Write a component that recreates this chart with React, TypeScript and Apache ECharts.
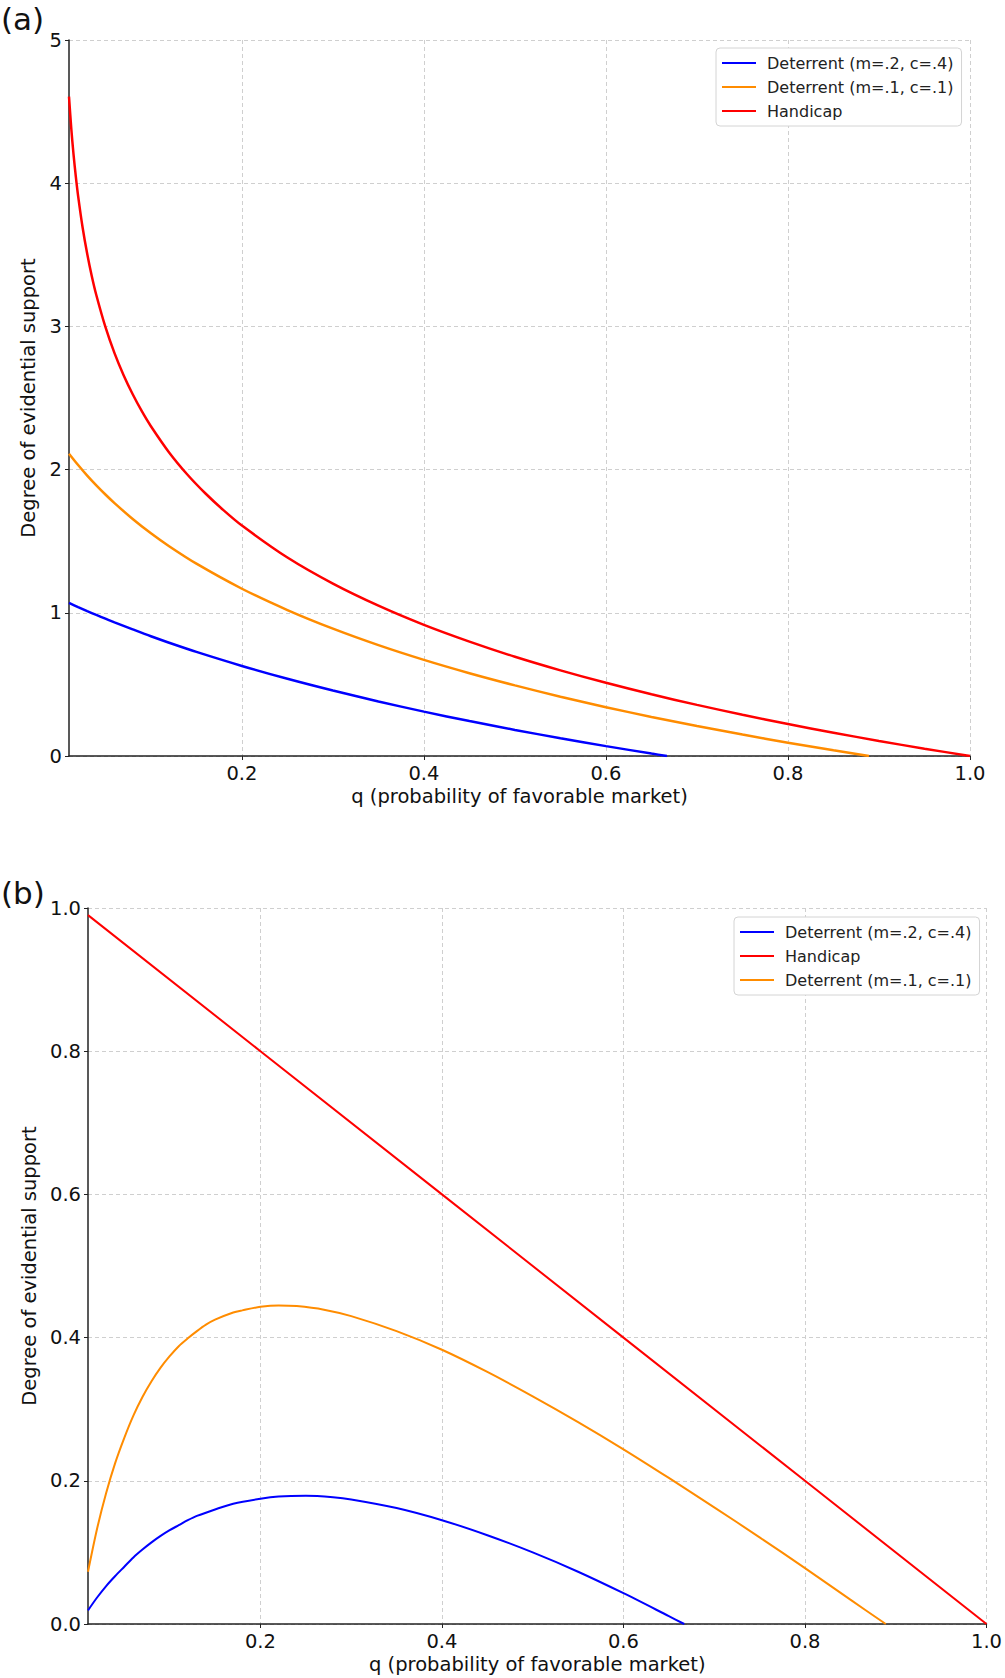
import React, { useEffect, useRef } from "react";
import * as echarts from "echarts";

// ---------- Data ----------
const seriesNames = ["Deterrent (m=.2, c=.4)", "Deterrent (m=.1, c=.1)", "Handicap"];
const legendOrderB = ["Deterrent (m=.2, c=.4)", "Handicap", "Deterrent (m=.1, c=.1)"];

const xTickValues = [0.2, 0.4, 0.6, 0.8, 1.0];

// Panel (a)
const qBlueA = [0.01, 0.02, 0.03, 0.04, 0.05, 0.06, 0.08, 0.1, 0.12, 0.15, 0.2, 0.25, 0.3, 0.35, 0.4, 0.45, 0.5, 0.55, 0.6, 0.65, 0.667];
const blueA = [1.069, 1.04, 1.012, 0.985, 0.959, 0.933, 0.884, 0.836, 0.791, 0.727, 0.629, 0.539, 0.457, 0.381, 0.31, 0.244, 0.182, 0.124, 0.069, 0.017, 0];

const qOrangeA = [0.01, 0.02, 0.03, 0.04, 0.05, 0.06, 0.08, 0.1, 0.12, 0.15, 0.2, 0.25, 0.3, 0.35, 0.4, 0.45, 0.5, 0.55, 0.6, 0.65, 0.7, 0.75, 0.8, 0.85, 0.889];
const orangeA = [2.111, 2.032, 1.958, 1.89, 1.826, 1.766, 1.655, 1.555, 1.465, 1.343, 1.168, 1.019, 0.889, 0.774, 0.671, 0.578, 0.493, 0.414, 0.341, 0.273, 0.209, 0.15, 0.093, 0.04, 0];

const qRedA = [0.01, 0.0125, 0.015, 0.0175, 0.02, 0.025, 0.03, 0.035, 0.04, 0.05, 0.06, 0.07, 0.08, 0.09, 0.1, 0.12, 0.14, 0.16, 0.18, 0.2, 0.25, 0.3, 0.35, 0.4, 0.45, 0.5, 0.55, 0.6, 0.65, 0.7, 0.75, 0.8, 0.85, 0.9, 0.95, 1.0];
const redA = [4.605, 4.382, 4.2, 4.046, 3.912, 3.689, 3.507, 3.352, 3.219, 2.996, 2.813, 2.659, 2.526, 2.408, 2.303, 2.12, 1.966, 1.833, 1.715, 1.609, 1.386, 1.204, 1.05, 0.916, 0.799, 0.693, 0.598, 0.511, 0.431, 0.357, 0.288, 0.223, 0.163, 0.105, 0.051, 0];

// Panel (b)
const qBlueB = [0.01, 0.02, 0.03, 0.04, 0.05, 0.06, 0.07, 0.08, 0.09, 0.1, 0.11, 0.12, 0.13, 0.15, 0.17, 0.2, 0.22, 0.25, 0.28, 0.3, 0.35, 0.4, 0.45, 0.5, 0.55, 0.6, 0.65, 0.667];
const blueB = [0.019, 0.037, 0.053, 0.067, 0.08, 0.093, 0.104, 0.114, 0.123, 0.131, 0.138, 0.145, 0.151, 0.16, 0.168, 0.175, 0.178, 0.179, 0.177, 0.174, 0.162, 0.145, 0.124, 0.1, 0.073, 0.043, 0.011, 0];

const qOrangeB = [0.01, 0.02, 0.03, 0.04, 0.05, 0.06, 0.07, 0.08, 0.09, 0.1, 0.11, 0.12, 0.13, 0.14, 0.15, 0.17, 0.18, 0.2, 0.22, 0.24, 0.27, 0.3, 0.35, 0.4, 0.45, 0.5, 0.55, 0.6, 0.65, 0.7, 0.75, 0.8, 0.85, 0.889];
const orangeB = [0.073, 0.133, 0.183, 0.225, 0.26, 0.291, 0.317, 0.339, 0.358, 0.374, 0.388, 0.399, 0.409, 0.418, 0.425, 0.435, 0.438, 0.443, 0.445, 0.444, 0.439, 0.43, 0.409, 0.383, 0.352, 0.318, 0.282, 0.244, 0.204, 0.163, 0.121, 0.078, 0.034, 0];

const qRedB = [0.01, 0.2, 0.4, 0.6, 0.8, 1.0];
const redB = [0.99, 0.8, 0.6, 0.4, 0.2, 0];

// ---------- Styling ----------
const FONT = "DejaVu Sans";
const BLUE = "#0000ff";
const ORANGE = "#ff8c00";
const RED = "#ff0000";
const AXIS_COLOR = "#222";
const GRID_COLOR = "#cfcfcf";
const FS = 19.5;

const pairs = (xs: number[], ys: number[]) => xs.map((x, i) => [x, ys[i]]);

function xAxisCfg(gridIndex: number) {
  return {
    type: "value",
    gridIndex,
    min: 0.01,
    max: 1.0,
    axisLine: { show: true, onZero: false, lineStyle: { color: AXIS_COLOR, width: 1.5 } },
    axisTick: { show: true, length: 4, customValues: xTickValues, lineStyle: { color: AXIS_COLOR, width: 1 } },
    axisLabel: {
      customValues: xTickValues,
      formatter: (v: number) => v.toFixed(1),
      fontSize: FS,
      fontFamily: FONT,
      color: "#111",
      margin: 7,
    },
    splitLine: { show: true, lineStyle: { type: [4, 3], color: GRID_COLOR, width: 1 } },
    name: "q (probability of favorable market)",
    nameLocation: "middle",
    nameGap: 30,
    nameTextStyle: { fontSize: FS, fontFamily: FONT, color: "#111" },
  };
}

function yAxisCfg(gridIndex: number, max: number, interval: number, digits: number) {
  return {
    type: "value",
    gridIndex,
    min: 0,
    max,
    interval,
    axisLine: { show: true, lineStyle: { color: AXIS_COLOR, width: 1.5 } },
    axisTick: { show: true, length: 4, lineStyle: { color: AXIS_COLOR, width: 1 } },
    axisLabel: {
      formatter: (v: number) => v.toFixed(digits),
      fontSize: FS,
      fontFamily: FONT,
      color: "#111",
      margin: 7,
    },
    splitLine: { show: true, lineStyle: { type: [4, 3], color: GRID_COLOR, width: 1 } },
    name: "Degree of evidential support",
    nameLocation: "middle",
    nameRotate: 90,
    nameGap: 23,
    nameTextStyle: { fontSize: FS, fontFamily: FONT, color: "#111" },
  };
}

function legendCfg(left: number, top: number, data: string[]) {
  return {
    orient: "vertical",
    left,
    top,
    data,
    icon: "rect",
    itemWidth: 34,
    itemHeight: 2,
    itemGap: 6,
    padding: [6, 8, 6, 6],
    backgroundColor: "#ffffff",
    borderColor: "#d4d4d4",
    borderWidth: 1,
    borderRadius: 4,
    selectedMode: false,
    textStyle: { fontSize: 16, fontFamily: FONT, color: "#222", lineHeight: 18, padding: [0, 0, 0, 6] },
  };
}

function lineSeries(name: string, color: string, width: number, idx: number, data: number[][], smooth: boolean) {
  return {
    type: "line",
    name,
    xAxisIndex: idx,
    yAxisIndex: idx,
    data,
    showSymbol: false,
    symbol: "none",
    smooth: smooth ? 0.3 : false,
    lineStyle: { color, width },
    itemStyle: { color },
    clip: true,
  };
}

export default function App() {
  const ref = useRef<HTMLDivElement>(null);

  useEffect(() => {
    if (!ref.current) return;
    const chart = echarts.init(ref.current, undefined, { renderer: "svg" });
    const option = {
      animation: false,
      backgroundColor: "#ffffff",
      grid: [
        { left: 69, top: 40, width: 901, height: 716, containLabel: false },
        { left: 88, top: 908, width: 900, height: 716, containLabel: false },
      ],
      xAxis: [xAxisCfg(0), xAxisCfg(1)],
      yAxis: [yAxisCfg(0, 5, 1, 0), yAxisCfg(1, 1, 0.2, 1)],
      legend: [legendCfg(716, 48, seriesNames), legendCfg(734, 917, legendOrderB)],
      graphic: [
        {
          type: "text",
          left: 1,
          top: 3,
          style: { text: "(a)", fontSize: 31, fontFamily: FONT, fill: "#111" },
        },
        {
          type: "text",
          left: 1,
          top: 877,
          style: { text: "(b)", fontSize: 31, fontFamily: FONT, fill: "#111" },
        },
      ],
      series: [
        lineSeries(seriesNames[0], BLUE, 2.5, 0, pairs(qBlueA, blueA), true),
        lineSeries(seriesNames[1], ORANGE, 2.5, 0, pairs(qOrangeA, orangeA), true),
        lineSeries(seriesNames[2], RED, 2.5, 0, pairs(qRedA, redA), true),
        lineSeries(seriesNames[0], BLUE, 2, 1, pairs(qBlueB, blueB), true),
        lineSeries(seriesNames[2], RED, 2, 1, pairs(qRedB, redB), false),
        lineSeries(seriesNames[1], ORANGE, 2, 1, pairs(qOrangeB, orangeB), true),
      ],
    };
    chart.setOption(option as any);
    return () => {
      chart.dispose();
    };
  }, []);

  return (
    <div
      ref={ref}
      style={{ position: "absolute", left: 0, top: 0, width: 1005, height: 1678, background: "#fff" }}
    />
  );
}
